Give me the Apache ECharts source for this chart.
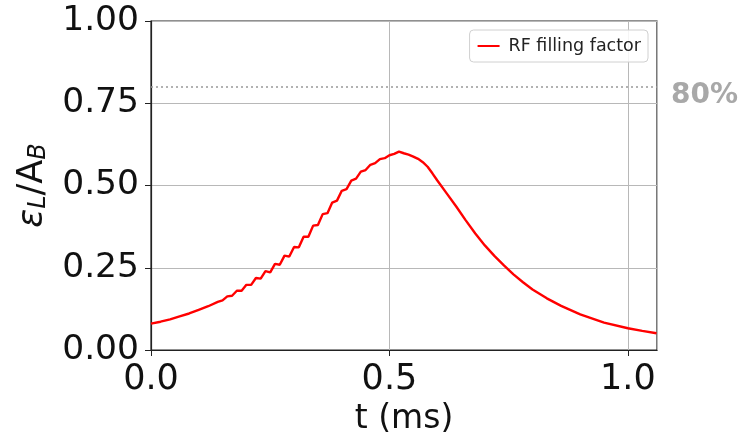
<!DOCTYPE html>
<html>
<head>
<meta charset="utf-8">
<script src="https://cdn.jsdelivr.net/npm/echarts@6/dist/echarts.min.js"></script>
<style>
  html, body { margin: 0; padding: 0; background: #fff; }
  #chart { width: 751px; height: 436px; }
</style>
</head>
<body>
<div id="chart"></div>
<script>
// Time axis (ms) and RF filling factor εL/AB
const timeMs = [
  0.00, 0.02, 0.04, 0.06, 0.08, 0.10, 0.12, 0.14,
  0.15, 0.16, 0.17, 0.18, 0.19, 0.20, 0.21, 0.22, 0.23, 0.24,
  0.25, 0.26, 0.27, 0.28, 0.29, 0.30, 0.31, 0.32, 0.33, 0.34,
  0.35, 0.36, 0.37, 0.38, 0.39, 0.40, 0.41, 0.42, 0.43, 0.44,
  0.45, 0.46, 0.47, 0.48, 0.49, 0.50, 0.51, 0.52, 0.53, 0.54,
  0.55, 0.56, 0.57, 0.58, 0.59, 0.60, 0.62, 0.64, 0.66, 0.68,
  0.70, 0.72, 0.74, 0.76, 0.78, 0.80, 0.83, 0.86, 0.90, 0.95,
  1.00, 1.03, 1.06
];
const fillingFactor = [
  0.080, 0.086, 0.093, 0.102, 0.111, 0.122, 0.133, 0.146,
  0.151, 0.163, 0.165, 0.180, 0.180, 0.198, 0.198, 0.219, 0.217, 0.240,
  0.236, 0.262, 0.259, 0.287, 0.284, 0.313, 0.312, 0.344, 0.344, 0.378,
  0.380, 0.413, 0.416, 0.448, 0.454, 0.484, 0.489, 0.515, 0.521, 0.542,
  0.547, 0.563, 0.568, 0.580, 0.583, 0.592, 0.596, 0.603, 0.598, 0.594,
  0.588, 0.581, 0.571, 0.557, 0.537, 0.516, 0.476, 0.436, 0.394, 0.354,
  0.318, 0.286, 0.257, 0.230, 0.206, 0.184, 0.157, 0.134, 0.108, 0.083,
  0.066, 0.058, 0.051
];
// Target filling level
const targetLevel = 0.8;
const targetLabel = '80%';
const seriesName = 'RF filling factor';

const chart = echarts.init(document.getElementById('chart'));
const font = 'DejaVu Sans';

chart.setOption({
  animation: false,
  backgroundColor: '#fff',
  textStyle: { fontFamily: font },
  grid: {
    left: 151, right: 94, top: 21, bottom: 86,
    outerBoundsMode: 'none', containLabel: false,
    show: true, borderColor: '#222', borderWidth: 1.2, backgroundColor: 'transparent'
  },
  legend: {
    right: 103, top: 30,
    data: [{ name: seriesName, icon: 'rect' }],
    itemWidth: 22, itemHeight: 2, itemGap: 8,
    padding: [7, 7, 7, 8],
    borderColor: '#d0d0d0', borderWidth: 1, borderRadius: 4,
    backgroundColor: 'rgba(255,255,255,0.85)',
    textStyle: { fontFamily: font, fontSize: 17.5, color: '#222', padding: [0, 0, 0, 4] }
  },
  xAxis: {
    type: 'value', min: 0, max: 1.061, interval: 0.5,
    name: 't (ms)', nameLocation: 'middle', nameGap: 53,
    nameTextStyle: { fontFamily: font, fontSize: 33, color: '#111' },
    axisLine: { show: true, onZero: false, lineStyle: { color: '#222', width: 1.2 } },
    axisTick: { show: true, inside: false, length: 6, lineStyle: { color: '#222' } },
    axisLabel: {
      fontFamily: font, fontSize: 35, color: '#111', margin: 12,
      showMaxLabel: false,
      formatter: v => v.toFixed(1)
    },
    splitLine: { show: true, lineStyle: { color: '#b8b8b8', width: 1 } }
  },
  yAxis: {
    type: 'value', min: 0, max: 1, interval: 0.25,
    name: '{e|ε}{s|L}{n|/A}{s|B}', nameLocation: 'middle', nameGap: 100, nameRotate: 90,
    nameTextStyle: {
      fontFamily: font, color: '#111',
      rich: {
        e: { fontFamily: font, fontSize: 35, fontStyle: 'italic', color: '#111' },
        n: { fontFamily: font, fontSize: 35, color: '#111' },
        s: { fontFamily: font, fontSize: 24, fontStyle: 'italic', color: '#111', verticalAlign: 'bottom', padding: [13, 0, 0, 0] }
      }
    },
    axisLine: { show: true, lineStyle: { color: '#222', width: 1.2 } },
    axisTick: { show: true, inside: false, length: 6, lineStyle: { color: '#222' } },
    axisLabel: {
      fontFamily: font, fontSize: 34.5, color: '#111', margin: 12,
      formatter: v => v.toFixed(2)
    },
    splitLine: { show: true, lineStyle: { color: '#b8b8b8', width: 1 } }
  },
  series: [{
    name: seriesName,
    type: 'line',
    data: timeMs.map((t, i) => [t, fillingFactor[i]]),
    showSymbol: false,
    smooth: false,
    lineStyle: { color: '#ff0000', width: 2.4 },
    itemStyle: { color: '#ff0000' },
    markLine: {
      silent: true, symbol: 'none',
      data: [{ yAxis: targetLevel }],
      lineStyle: { color: '#999', type: [2, 3], width: 1.6 },
      label: {
        show: true, position: 'end', distance: 14,
        formatter: '{p|' + targetLabel + '}',
        rich: {
          p: { fontFamily: font, fontSize: 28, fontWeight: 'bold', color: '#a8a8a8', padding: [18, 0, 0, 0] }
        }
      }
    }
  }]
});
</script>
</body>
</html>
